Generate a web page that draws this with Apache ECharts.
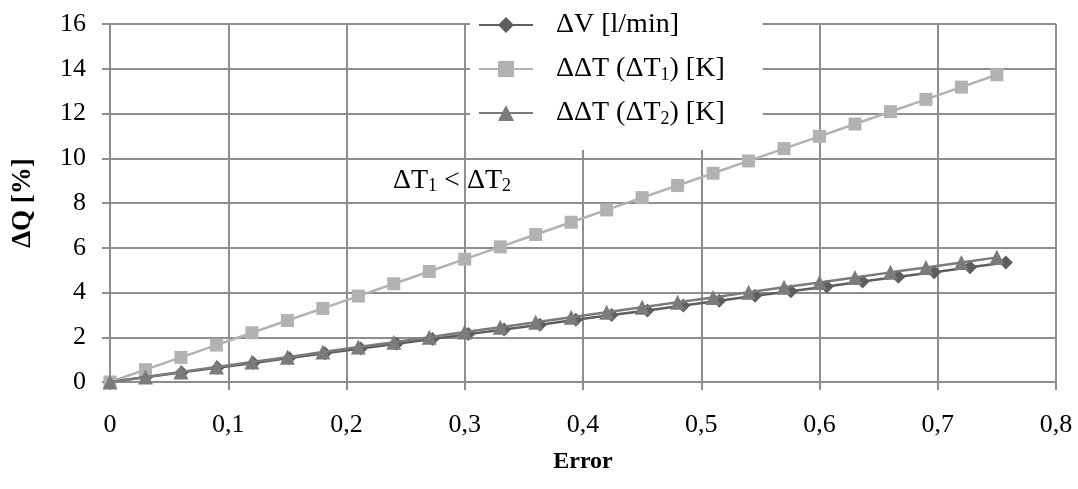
<!DOCTYPE html>
<html>
<head>
<meta charset="utf-8">
<script src="https://cdn.jsdelivr.net/npm/echarts@6/dist/echarts.min.js"></script>
<style>
html,body{margin:0;padding:0;background:#fff;}
#c{width:1078px;height:489px;}
</style>
</head>
<body>
<div id="c"></div>
<script>
// x positions (Error)
var xT = [0,0.03,0.06,0.09,0.12,0.15,0.18,0.21,0.24,0.27,0.30,0.33,0.36,0.39,0.42,0.45,0.48,0.51,0.54,0.57,0.60,0.63,0.66,0.69,0.72,0.75];
var xV = [0,0.0303,0.0606,0.0909,0.1212,0.1515,0.1818,0.2121,0.2424,0.2727,0.3030,0.3333,0.3636,0.3939,0.4242,0.4545,0.4848,0.5152,0.5455,0.5758,0.6061,0.6364,0.6667,0.6970,0.7273,0.7576];
// ΔQ [%] values
var dV  = [0,0.21,0.43,0.64,0.85,1.07,1.28,1.50,1.71,1.92,2.14,2.35,2.56,2.78,2.99,3.20,3.42,3.63,3.85,4.06,4.27,4.49,4.70,4.91,5.13,5.34];
var dT1 = [0,0.55,1.10,1.65,2.20,2.75,3.29,3.84,4.39,4.94,5.49,6.04,6.59,7.14,7.69,8.24,8.78,9.33,9.88,10.43,10.98,11.53,12.08,12.63,13.18,13.73];
var dT2 = [0,0.22,0.45,0.67,0.89,1.11,1.34,1.56,1.78,2.00,2.23,2.45,2.67,2.89,3.12,3.34,3.56,3.78,4.01,4.23,4.45,4.67,4.90,5.12,5.34,5.57];
var seriesNames = ['ΔV [l/min]','ΔΔT (ΔT1) [K]','ΔΔT (ΔT2) [K]'];
var xTicks = ['0','0,1','0,2','0,3','0,4','0,5','0,6','0,7','0,8'];

function pairs(xs, ys){ return xs.map(function(x,i){ return [x, ys[i]]; }); }

var FONT = 'Liberation Serif';
var GRID = '#8e8e8e';
var richStyles = {
  n: {fontFamily: FONT, fontSize: 28, color: '#000'},
  s: {fontFamily: FONT, fontSize: 18, color: '#000', verticalAlign: 'bottom', padding: [11,0,0,0]}
};
var legendRich = {
  'ΔV [l/min]': '{n|ΔV [l/min]}',
  'ΔΔT (ΔT1) [K]': '{n|ΔΔT (ΔT}{s|1}{n|) [K]}',
  'ΔΔT (ΔT2) [K]': '{n|ΔΔT (ΔT}{s|2}{n|) [K]}'
};

var chart = echarts.init(document.getElementById('c'), null, {renderer:'canvas'});
chart.setOption({
  backgroundColor: '#fff',
  animation: false,
  textStyle: {fontFamily: FONT},
  grid: {left: 110, right: 22, top: 24, bottom: 107, containLabel: false},
  xAxis: {
    type: 'value', min: 0, max: 0.8, interval: 0.1,
    name: 'Error', nameLocation: 'middle', nameGap: 68,
    nameTextStyle: {fontFamily: FONT, fontSize: 24, fontWeight: 'bold', color: '#000'},
    axisLine: {show: true, lineStyle: {color: GRID, width: 2}},
    axisTick: {show: true, length: 8, lineStyle: {color: GRID, width: 2}},
    axisLabel: {margin: 30, fontFamily: FONT, fontSize: 26, color: '#000',
      formatter: function(v){ return xTicks[Math.round(v*10)]; }},
    splitLine: {show: true, lineStyle: {color: GRID, width: 2}}
  },
  yAxis: {
    type: 'value', min: 0, max: 16, interval: 2,
    name: 'ΔQ [%]', nameLocation: 'middle', nameGap: 73, nameRotate: 90,
    nameTextStyle: {fontFamily: FONT, fontSize: 27, fontWeight: 'bold', color: '#000'},
    axisLine: {show: true, lineStyle: {color: GRID, width: 2}},
    axisTick: {show: true, length: 8, lineStyle: {color: GRID, width: 2}},
    axisLabel: {margin: 24, fontFamily: FONT, fontSize: 26, color: '#000'},
    splitLine: {show: true, lineStyle: {color: GRID, width: 2}}
  },
  legend: {
    orient: 'vertical', left: 470, top: 0,
    padding: [10, 38, 22, 8],
    backgroundColor: '#fff',
    itemWidth: 54, itemHeight: 20, itemGap: 14,
    data: seriesNames,
    formatter: function(n){ return legendRich[n]; },
    textStyle: {fontFamily: FONT, fontSize: 28, color: '#000', padding: [0,0,0,18], lineHeight: 30, rich: richStyles}
  },
  graphic: [{
    type: 'group', left: 372, top: 147, z: 100,
    children: [
      {type: 'rect', shape: {x: 0, y: 0, width: 166, height: 64}, style: {fill: '#fff'}},
      {type: 'text', x: 80, y: 34, style: {
        text: '{n|ΔT}{s|1}{n| < ΔT}{s|2}', rich: richStyles,
        align: 'center', verticalAlign: 'middle'}}
    ]
  }],
  series: [
    {name: seriesNames[0], type: 'line', data: pairs(xV, dV), symbol: 'diamond', symbolSize: 14,
     itemStyle: {color: '#5e5e5e'}, lineStyle: {color: '#5e5e5e', width: 2.5}, z: 2},
    {name: seriesNames[1], type: 'line', data: pairs(xT, dT1), symbol: 'rect', symbolSize: 13,
     itemStyle: {color: '#b2b2b2'}, lineStyle: {color: '#b2b2b2', width: 2.5}, z: 3},
    {name: seriesNames[2], type: 'line', data: pairs(xT, dT2), symbol: 'triangle', symbolSize: 15,
     itemStyle: {color: '#7b7b7b'}, lineStyle: {color: '#7b7b7b', width: 2.5}, z: 4}
  ]
});
</script>
</body>
</html>
